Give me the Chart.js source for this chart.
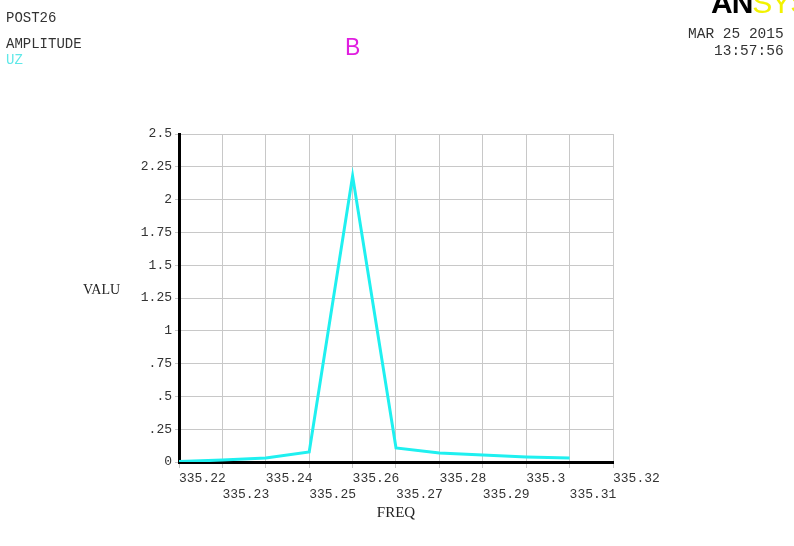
<!DOCTYPE html>
<html>
<head>
<meta charset="utf-8">
<script src="https://cdn.jsdelivr.net/npm/chart.js@4"></script>
<style>
  html, body { margin: 0; padding: 0; background: #fff; }
  #wrap { position: relative; width: 794px; height: 546px; overflow: hidden; background: #fff; }
  canvas { position: absolute; left: 0; top: 0; }
  .t { position: absolute; white-space: nowrap; line-height: 1; }
  .mono { font-family: "Liberation Mono", "DejaVu Sans Mono", monospace; font-size: 14px; color: #333; }
  .serif { font-family: "Liberation Serif", "DejaVu Serif", serif; color: #222; }
</style>
</head>
<body>
<div id="wrap">
  <canvas id="c" width="794" height="546"></canvas>
  <div class="t mono" style="left:6px; top:11px;">POST26</div>
  <div class="t mono" style="left:6px; top:37px;">AMPLITUDE</div>
  <div class="t mono" style="left:6px; top:53px; color:#5fe8e8;">UZ</div>
  <div class="t" style="left:345px; top:36px; font-family:'Liberation Sans', Arial, sans-serif; font-size:23px; color:#e01ee0;">B</div>
  <div class="t" style="left:711px; top:-12px; font-family:'Liberation Sans', Arial, sans-serif; font-size:30px; font-weight:bold; color:#000; letter-spacing:-1px;">AN<span style="color:#f2f200; font-weight:normal;">SYS</span></div>
  <div class="t mono" style="left:688px; top:27px; font-size:14.5px;">MAR 25 2015</div>
  <div class="t mono" style="left:714px; top:44px; font-size:14.5px;">13:57:56</div>
  <div class="t serif" style="left:83px; top:283px; font-size:14px;">VALU</div>
</div>
<script>
// ---- data ----
const freqs = [335.22, 335.23, 335.24, 335.25, 335.26, 335.27, 335.28, 335.29, 335.30, 335.31];
const uzAmplitude = [0.003, 0.015, 0.03, 0.076, 2.18, 0.107, 0.069, 0.053, 0.038, 0.03];
const xTicks = [335.22, 335.23, 335.24, 335.25, 335.26, 335.27, 335.28, 335.29, 335.30, 335.31, 335.32];
const xTickLabels = ['335.22', '335.23', '335.24', '335.25', '335.26', '335.27', '335.28', '335.29', '335.3', '335.31', '335.32'];
const yTicks = [0, 0.25, 0.5, 0.75, 1, 1.25, 1.5, 1.75, 2, 2.25, 2.5];
const yTickLabels = ['0', '.25', '.5', '.75', '1', '1.25', '1.5', '1.75', '2', '2.25', '2.5'];

const monoFont = { family: "'Liberation Mono', 'DejaVu Sans Mono', monospace", size: 13 };

new Chart(document.getElementById('c'), {
  type: 'line',
  data: {
    datasets: [{
      label: 'UZ',
      data: freqs.map((f, i) => ({ x: f, y: uzAmplitude[i] })),
      borderColor: '#1ff0f0',
      borderWidth: 3,
      pointRadius: 0,
      tension: 0,
      fill: false
    }]
  },
  options: {
    responsive: false,
    animation: false,
    devicePixelRatio: 1,
    layout: { padding: { left: 0, top: 134, right: 181, bottom: 0 } },
    plugins: { legend: { display: false }, tooltip: { enabled: false } },
    scales: {
      x: {
        type: 'linear',
        min: xTicks[0],
        max: xTicks[xTicks.length - 1],
        afterBuildTicks: (s) => { s.ticks = xTicks.map(v => ({ value: v })); },
        afterFit: (s) => { s.height = 84; },
        grid: { color: '#c8c8c8', lineWidth: 1, tickLength: 6, drawTicks: true },
        border: { color: '#000', width: 3 },
        ticks: {
          align: 'start',
          autoSkip: false,
          maxRotation: 0,
          padding: 3,
          color: '#333',
          font: monoFont,
          callback: (v, i) => (i % 2 === 0 ? xTickLabels[i] : ['', xTickLabels[i]])
        },
        title: {
          display: true,
          text: 'FREQ',
          color: '#222',
          font: { family: "'Liberation Serif', 'DejaVu Serif', serif", size: 15 },
          padding: { top: 0, bottom: 24 }
        }
      },
      y: {
        type: 'linear',
        min: yTicks[0],
        max: yTicks[yTicks.length - 1],
        afterBuildTicks: (s) => { s.ticks = yTicks.map(v => ({ value: v })); },
        afterFit: (s) => { s.width = 179; },
        grid: { color: '#c8c8c8', lineWidth: 1, tickLength: 4, drawTicks: true },
        border: { color: '#000', width: 3 },
        ticks: {
          autoSkip: false,
          padding: 3,
          color: '#333',
          font: monoFont,
          callback: (v, i) => yTickLabels[i]
        }
      }
    }
  }
});
</script>
</body>
</html>
